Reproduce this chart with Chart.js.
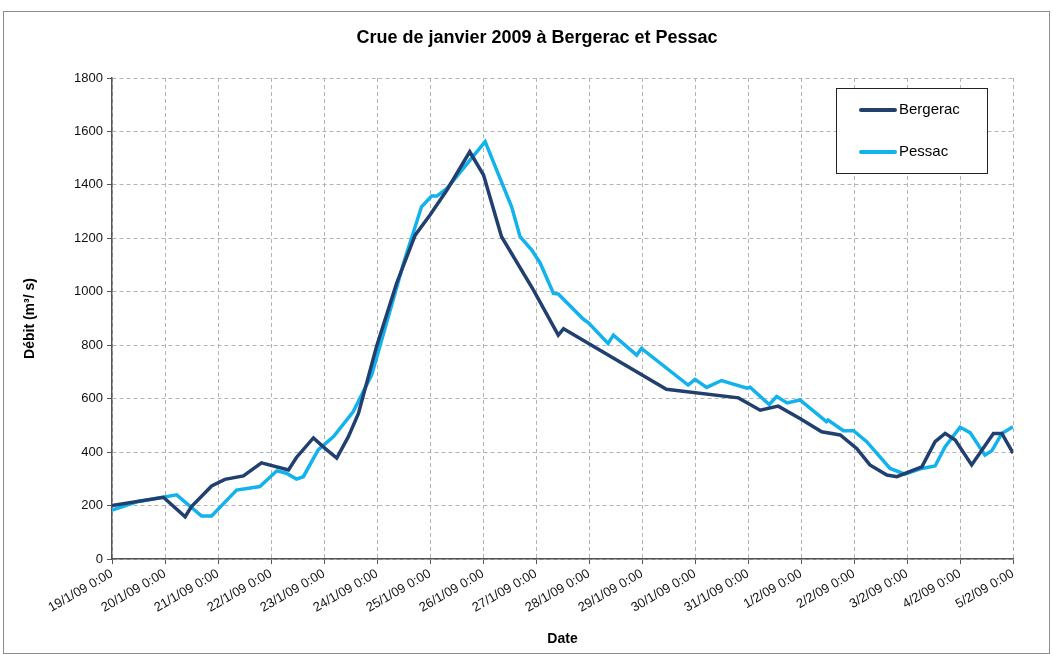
<!DOCTYPE html>
<html>
<head>
<meta charset="utf-8">
<script src="https://cdn.jsdelivr.net/npm/chart.js@4/dist/chart.umd.min.js"></script>
<style>
  html, body { margin: 0; padding: 0; background: #fff; }
  #wrap { width: 1053px; height: 654px; }
</style>
</head>
<body>
<div id="wrap"><canvas id="chart"></canvas></div>
<script>
// jours écoulés depuis le 19/1/09 0:00
const bergeracJours = [0, 0.97, 1.38, 1.5, 1.88, 2.13, 2.48, 2.82, 3.33, 3.48, 3.8, 4.02, 4.24, 4.46, 4.65, 4.99, 5.37, 5.72, 6.0, 6.32, 6.75, 7.01, 7.35, 7.95, 8.42, 8.52, 10.46, 11.82, 12.23, 12.57, 12.98, 13.39, 13.74, 14.05, 14.3, 14.62, 14.81, 15.12, 15.28, 15.53, 15.72, 15.91, 16.22, 16.63, 16.79, 17.0];
const bergeracDebit = [200, 231, 158, 196, 273, 298, 311, 360, 333, 380, 453, 414, 378, 458, 545, 794, 1032, 1212, 1287, 1381, 1524, 1437, 1206, 1007, 838, 862, 635, 603, 557, 572, 526, 476, 464, 414, 352, 314, 308, 333, 345, 439, 470, 445, 352, 470, 470, 396];

const pessacJours = [0, 0.47, 0.72, 1.22, 1.69, 1.88, 2.35, 2.79, 3.11, 3.29, 3.48, 3.61, 3.89, 4.18, 4.55, 4.9, 5.34, 5.5, 5.84, 6.03, 6.13, 6.32, 7.04, 7.54, 7.7, 7.92, 8.08, 8.33, 8.42, 8.89, 8.99, 9.36, 9.46, 9.9, 9.99, 10.87, 11.0, 11.22, 11.5, 11.98, 12.04, 12.4, 12.54, 12.74, 12.98, 13.48, 13.51, 13.8, 13.99, 14.24, 14.68, 14.96, 15.28, 15.53, 15.72, 16.0, 16.19, 16.47, 16.6, 16.79, 17.0];
const pessacDebit = [183, 214, 223, 240, 161, 161, 258, 271, 330, 321, 299, 308, 408, 458, 551, 689, 994, 1107, 1318, 1358, 1358, 1387, 1562, 1318, 1206, 1156, 1107, 994, 992, 898, 884, 807, 838, 763, 788, 651, 672, 642, 668, 639, 643, 578, 608, 584, 595, 514, 520, 480, 480, 439, 339, 318, 339, 348, 420, 493, 473, 389, 405, 470, 495];

const dateLabels = ['19/1/09 0:00', '20/1/09 0:00', '21/1/09 0:00', '22/1/09 0:00', '23/1/09 0:00', '24/1/09 0:00', '25/1/09 0:00', '26/1/09 0:00', '27/1/09 0:00', '28/1/09 0:00', '29/1/09 0:00', '30/1/09 0:00', '31/1/09 0:00', '1/2/09 0:00', '2/2/09 0:00', '3/2/09 0:00', '4/2/09 0:00', '5/2/09 0:00'];

const chartTitle = 'Crue de janvier 2009 à Bergerac et Pessac';

const toPoints = (xs, ys) => xs.map((x, i) => ({ x: x, y: ys[i] }));

// cadre gris, fond blanc et titre
const frame = {
  id: 'frame',
  beforeDraw(chart) {
    const ctx = chart.ctx;
    ctx.save();
    ctx.fillStyle = '#fff';
    ctx.fillRect(0, 0, chart.width, chart.height);
    ctx.strokeStyle = '#8c8c8c';
    ctx.lineWidth = 1;
    ctx.strokeRect(3.5, 11.5, 1046, 642);
    ctx.fillStyle = '#000';
    ctx.font = 'bold 18px "Liberation Sans", Arial, sans-serif';
    ctx.textAlign = 'center';
    ctx.textBaseline = 'middle';
    ctx.fillText(chartTitle, 537, 38);
    ctx.restore();
  }
};

// légende encadrée dans la zone du graphique
const boxLegend = {
  id: 'boxLegend',
  afterDraw(chart) {
    const ctx = chart.ctx;
    ctx.save();
    ctx.fillStyle = '#fff';
    ctx.fillRect(836, 88, 151, 85);
    ctx.strokeStyle = '#222';
    ctx.lineWidth = 1;
    ctx.strokeRect(836.5, 88.5, 151, 85);
    ctx.font = '15px "Liberation Sans", Arial, sans-serif';
    ctx.textBaseline = 'middle';
    chart.data.datasets.forEach((ds, i) => {
      const y = 110 + i * 42;
      ctx.strokeStyle = ds.borderColor;
      ctx.lineWidth = 4;
      ctx.lineCap = 'round';
      ctx.beginPath();
      ctx.moveTo(861, y);
      ctx.lineTo(895, y);
      ctx.stroke();
      ctx.fillStyle = '#000';
      ctx.fillText(ds.label, 899, y);
    });
    ctx.restore();
  }
};

new Chart(document.getElementById('chart'), {
  type: 'line',
  data: {
    datasets: [
      {
        label: 'Bergerac',
        data: toPoints(bergeracJours, bergeracDebit),
        borderColor: '#21406f',
        borderWidth: 3.5,
        pointRadius: 0,
        tension: 0
      },
      {
        label: 'Pessac',
        data: toPoints(pessacJours, pessacDebit),
        borderColor: '#12b2ec',
        borderWidth: 3.5,
        pointRadius: 0,
        tension: 0
      }
    ]
  },
  options: {
    responsive: true,
    maintainAspectRatio: false,
    animation: false,
    layout: { padding: { top: 78, right: 40, bottom: 4, left: 0 } },
    plugins: {
      legend: { display: false },
      tooltip: { enabled: false },
      title: { display: false }
    },
    scales: {
      x: {
        type: 'linear',
        min: 0,
        max: 17,
        afterFit(scale) { scale.height = 91; },
        afterBuildTicks(scale) {
          scale.ticks = dateLabels.map((_, i) => ({ value: i }));
        },
        ticks: {
          autoSkip: false,
          maxRotation: 30,
          minRotation: 30,
          color: '#111',
          padding: 2,
          font: { family: '"Liberation Sans", Arial, sans-serif', size: 13 },
          callback: (v) => dateLabels[v]
        },
        grid: {
          color: '#b4b4b4',
          lineWidth: 1,
          tickLength: 5,
          tickColor: '#555',
          tickBorderDash: []
        },
        border: { display: true, color: '#555', width: 1.5, dash: [4, 3] },
        title: {
          display: true,
          text: 'Date',
          color: '#000',
          font: { family: '"Liberation Sans", Arial, sans-serif', size: 14, weight: 'bold' },
          padding: { top: 4, bottom: 2 }
        }
      },
      y: {
        min: 0,
        max: 1800,
        afterFit(scale) { scale.width = 112; },
        ticks: {
          stepSize: 200,
          color: '#111',
          padding: 4,
          font: { family: '"Liberation Sans", Arial, sans-serif', size: 13 },
          callback: (v) => String(v)
        },
        grid: {
          color: '#b4b4b4',
          lineWidth: 1,
          tickLength: 5,
          tickColor: '#555',
          tickBorderDash: []
        },
        border: { display: true, color: '#555', width: 1.5, dash: [4, 3] },
        title: {
          display: true,
          text: 'Débit (m³/ s)',
          color: '#000',
          font: { family: '"Liberation Sans", Arial, sans-serif', size: 14, weight: 'bold' },
          padding: { top: 22, bottom: 0 }
        }
      }
    }
  },
  plugins: [frame, boxLegend]
});
</script>
</body>
</html>
